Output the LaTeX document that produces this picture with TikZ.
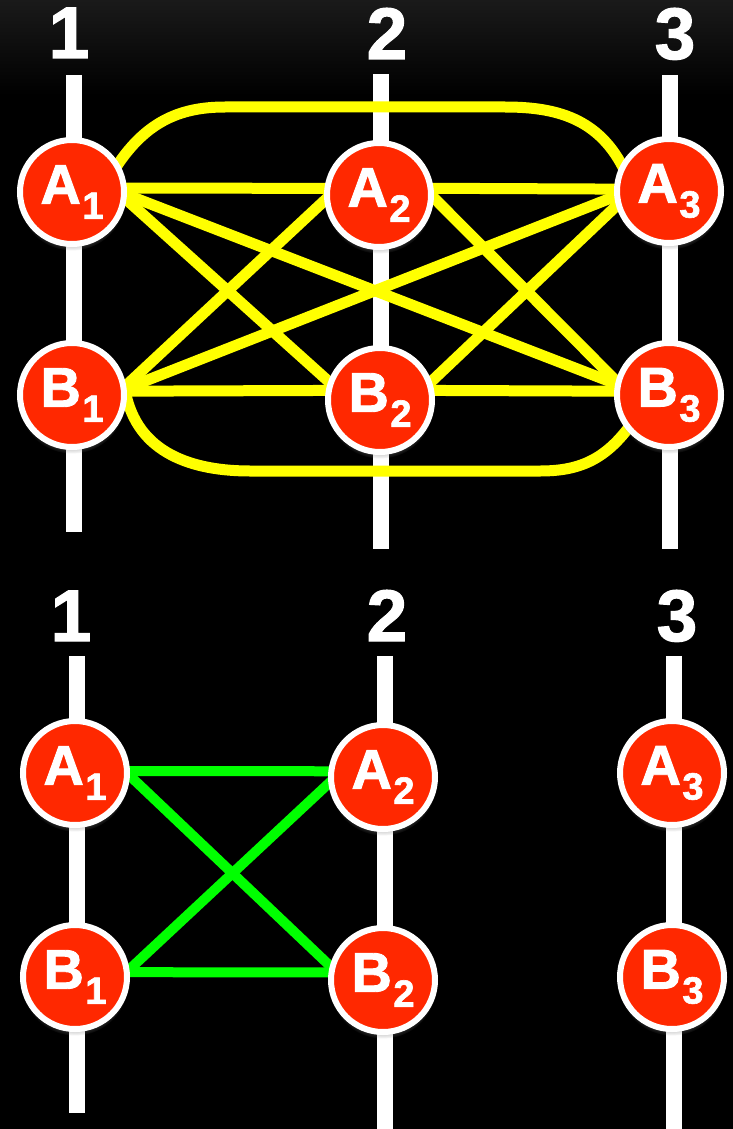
\documentclass[tikz,border=0pt]{standalone}
\usepackage{fontspec}
\setmainfont{Liberation Sans}
\newfontfamily\heavyfont[FakeBold=1.6]{Liberation Sans Bold}
\usetikzlibrary{shadows}

\pgfdeclarelayer{back}
\pgfdeclarelayer{bars}
\pgfdeclarelayer{links}
\pgfsetlayers{back,bars,links,main}

\definecolor{nodered}{RGB}{255,40,0}
\definecolor{linkyellow}{RGB}{255,255,0}
\definecolor{linkgreen}{RGB}{0,255,0}
\definecolor{headgray}{RGB}{26,26,26}

% letter with a lowered, smaller index
\newcommand{\statelabel}[2]{%
  {\fontsize{56}{56}\selectfont\heavyfont #1}\kern1.5pt%
  \raisebox{-15pt}{\fontsize{38}{38}\selectfont\heavyfont #2}}

\tikzset{
  station/.style={circle, fill=nodered, draw=white, line width=6pt,
    minimum size=104pt, inner sep=0pt, text=white,
    circular drop shadow={shadow xshift=0pt, shadow yshift=-5pt,
      shadow scale=1.03, opacity=0.55}},
  column/.style={white, line width=16pt},
  heading/.style={text=white, anchor=base, inner sep=0pt,
    font=\fontsize{73}{73}\selectfont\heavyfont},
  ylink/.style={linkyellow, line width=11pt, shorten <=-10pt, shorten >=-10pt},
  glink/.style={linkgreen, line width=10pt, shorten <=-10pt, shorten >=-10pt}
}

\begin{document}
\begin{tikzpicture}[x=1pt, y=1pt]
  \useasboundingbox (0,0) rectangle (733,-1129);

  \begin{pgfonlayer}{back}
    \fill[black] (0,0) rectangle (733,-1129);
    \fill[top color=headgray, bottom color=black] (0,0) rectangle (733,-95);
  \end{pgfonlayer}

  % ---- column headings ----
  \node[heading] (h1) at (69,-58) {1};
  \node[heading] (h2) at (387,-59) {2};
  \node[heading] (h3) at (675,-59) {3};
  \node[heading] (g1) at (71,-641) {1};
  \node[heading] (g2) at (387,-641) {2};
  \node[heading] (g3) at (677,-641) {3};

  % ---- vertical columns ----
  \begin{pgfonlayer}{bars}
    \draw[column] (74,-75) -- (74,-532);
    \draw[column] (381,-74) -- (381,-549);
    \draw[column] (670,-75) -- (670,-549);
    \draw[column] (77,-656) -- (77,-1113);
    \draw[column] (385,-656) -- (385,-1129);
    \draw[column] (674,-656) -- (674,-1129);
  \end{pgfonlayer}

  % ---- upper group: all states ----
  \node[station] (tA1) at (72,-192)  {\statelabel{A}{1}};
  \node[station] (tA2) at (379,-195) {\statelabel{A}{2}};
  \node[station] (tA3) at (669,-191) {\statelabel{A}{3}};
  \node[station] (tB1) at (72,-395)  {\statelabel{B}{1}};
  \node[station] (tB2) at (380,-400) {\statelabel{B}{2}};
  \node[station] (tB3) at (669,-395) {\statelabel{B}{3}};

  % ---- lower group ----
  \node[station] (bA1) at (75,-773)  {\statelabel{A}{1}};
  \node[station] (bA2) at (383,-777) {\statelabel{A}{2}};
  \node[station] (bA3) at (672,-773) {\statelabel{A}{3}};
  \node[station] (bB1) at (75,-977)  {\statelabel{B}{1}};
  \node[station] (bB2) at (383,-980) {\statelabel{B}{2}};
  \node[station] (bB3) at (672,-977) {\statelabel{B}{3}};

  \coordinate (arcTL) at (225,-107);
  \coordinate (arcTR) at (505,-107);
  \coordinate (arcBL) at (250,-471);
  \coordinate (arcBR) at (540,-471);

  \begin{pgfonlayer}{links}
    % yellow: every pair in the upper group
    \draw[ylink] (tA1.4) -- (tA2.173);
    \draw[ylink] (tA2.7) -- (tA3.178);
    \draw[ylink] (tB1.4) -- (tB2.170);
    \draw[ylink] (tB2.10) -- (tB3.176);
    \draw[ylink] (tA1.-8) -- (tB2.160);
    \draw[ylink] (tA1.-3) -- (tB3.168);
    \draw[ylink] (tB1.10) -- (tA2.186);
    \draw[ylink] (tB1.7) -- (tA3.186);
    \draw[ylink] (tA2.-3) -- (tB3.165);
    \draw[ylink] (tA3.196) -- (tB2.20);
    \draw[ylink] (tA1.32) to[out=58,in=180] (arcTL) -- (arcTR)
      to[out=0,in=115] (tA3.150);
    \draw[ylink] (tB1.-5) to[out=-80,in=180] (arcBL) -- (arcBR)
      to[out=0,in=-125] (tB3.-140);

    % green: pairs within columns 1 and 2
    \draw[glink] (bA1.2) -- (bA2.174);
    \draw[glink] (bB1.5) -- (bB2.172);
    \draw[glink] (bA1.-3) -- (bB2.165);
    \draw[glink] (bB1.8) -- (bA2.187);
  \end{pgfonlayer}
\end{tikzpicture}
\end{document}
